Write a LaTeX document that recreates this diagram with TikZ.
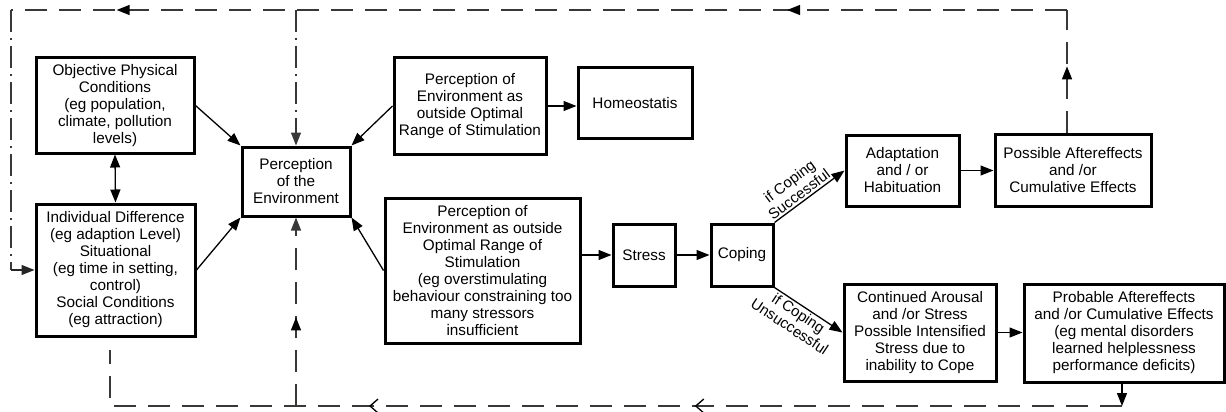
\documentclass[tikz,border=0pt]{standalone}
\usepackage{fontspec}
\setmainfont{Liberation Sans}
\usetikzlibrary{arrows.meta,decorations.markings}
\tikzset{
  box/.style={draw,line width=3pt,align=center,inner sep=0pt,font=\fontsize{15.3}{17}\selectfont},
  conn/.style={line width=1.3pt,-{Triangle[length=13pt,width=10pt]}},
  fb/.style={draw=black!78,line width=1.4pt,dash pattern=on 22pt off 12pt},
  fbdot/.style={draw=black!78,line width=1.4pt,dash pattern=on 22pt off 6pt on 2pt off 6pt},
  lab/.style={font=\fontsize{15}{16}\selectfont,align=center,inner sep=2pt,sloped},
  tri/.tip={Triangle[length=13pt,width=10pt]},
  barb/.tip={Straight Barb[length=8pt,width=14pt,line width=1.3pt]}
}
\begin{document}
\begin{tikzpicture}[x=1pt,y=-1pt]
\useasboundingbox (0,0) rectangle (1226,412);

% boxes
\node[box,minimum width=158pt,minimum height=95pt] (obj) at (115,105.5)
  {Objective Physical\\Conditions\\(eg population,\\climate, pollution\\levels)};
\node[box,minimum width=159pt,minimum height=132pt] (ind) at (115.5,270)
  {Individual Difference\\(eg adaption Level)\\Situational\\(eg time in setting,\\control)\\Social Conditions\\(eg attraction)};
\node[box,minimum width=108pt,minimum height=69pt] (pe) at (296,181.5)
  {Perception\\of the\\Environment};
\node[box,minimum width=152pt,minimum height=96pt] (pt) at (470,106)
  {Perception of\\Environment as\\outside Optimal\\Range of Stimulation};
\node[box,minimum width=114pt,minimum height=70pt] (home) at (635,103)
  {Homeostatis};
\node[box,minimum width=195pt,minimum height=145pt] (pb) at (482.5,270.5)
  {Perception of\\Environment as outside\\Optimal Range of\\Stimulation\\(eg overstimulating\\behaviour constraining too\\many stressors\\insufficient};
\node[box,minimum width=62pt,minimum height=62pt] (stress) at (644,255) {Stress};
\node[box,minimum width=62pt,minimum height=62pt] (coping) at (742,255) {Coping};
\node[box,minimum width=113pt,minimum height=71pt] (adapt) at (902.5,170.5)
  {Adaptation\\and / or\\Habituation};
\node[box,minimum width=156pt,minimum height=72pt] (poss) at (1073,170)
  {Possible Aftereffects\\and /or\\Cumulative Effects};
\node[box,minimum width=152pt,minimum height=97pt] (cont) at (920,332.5)
  {Continued Arousal\\and /or Stress\\Possible Intensified\\Stress due to\\inability to Cope};
\node[box,minimum width=200pt,minimum height=98pt] (prob) at (1124,333)
  {Probable Aftereffects\\and /or Cumulative Effects\\(eg mental disorders\\learned helplessness\\performance deficits)};

% solid connectors
\draw[conn] (obj.east) -- (pe.north west);
\draw[conn] (ind.east) -- (pe.south west);
\draw[conn] (pt.west) -- (pe.north east);
\draw[conn] (pb.west) -- (pe.south east);
\draw[line width=1.3pt,{Triangle[length=13pt,width=10pt]}-{Triangle[length=13pt,width=10pt]}] (obj.south) -- (ind.north);
\draw[conn] (pt.east) -- (pt.east -| home.west);
\draw[conn] (stress.west -| pb.east) -- (stress.west);
\draw[conn] (stress.east) -- (coping.west);
\draw[conn] (coping.north east) -- node[lab,above,pos=0.42] {if Coping\\Successful} (adapt.west);
\draw[conn] (coping.south east) -- node[lab,below,pos=0.42] {if Coping\\Unsuccessful} (cont.west);
\draw[conn] (adapt.east) -- (adapt.east -| poss.west);
\draw[conn] (cont.east) -- (cont.east -| prob.west);

% feedback coordinates
\coordinate (tr) at (1067,10);
\coordinate (tl) at (11,10);
\coordinate (lc) at (11,270);
\coordinate (br) at (1122,406);
\coordinate (bl) at (110,406);
\coordinate (be) at (110,350);

% top feedback
\draw[fb,postaction={decorate},decoration={markings,mark=at position 0.54 with {\arrow[draw=black,fill=black]{tri}}}]
  (tr |- poss.north) -- (tr);
\draw[fb,postaction={decorate},decoration={markings,
   mark=at position 0.265 with {\arrow[draw=black,fill=black]{tri}},
   mark=at position 0.9 with {\arrow[draw=black,fill=black]{tri}}}]
  (tr) -- (tl);
\draw[fbdot] (tl) -- (lc);
\draw[line width=1.4pt,draw=black!85,-{Triangle[length=13pt,width=10pt]}] (lc) -- (lc -| ind.west);
\draw[fbdot,-{Triangle[length=13pt,width=10pt]}] (pe.north |- tl) -- (pe.north);

% bottom feedback
\draw[line width=1.3pt,-{Triangle[length=13pt,width=10pt]}] (br |- prob.south) -- (br);
\draw[fb,postaction={decorate},decoration={markings,
   mark=at position 0.4 with {\arrow[draw=black]{barb}},
   mark=at position 0.705 with {\arrow[draw=black]{barb}}}]
  (br) -- (bl) -- (be);
\draw[fb,postaction={decorate},decoration={markings,mark=at position 0.47 with {\arrow[draw=black,fill=black]{tri}}},-{Triangle[length=13pt,width=10pt]}]
  (pe.south |- bl) -- (pe.south);
\end{tikzpicture}
\end{document}
